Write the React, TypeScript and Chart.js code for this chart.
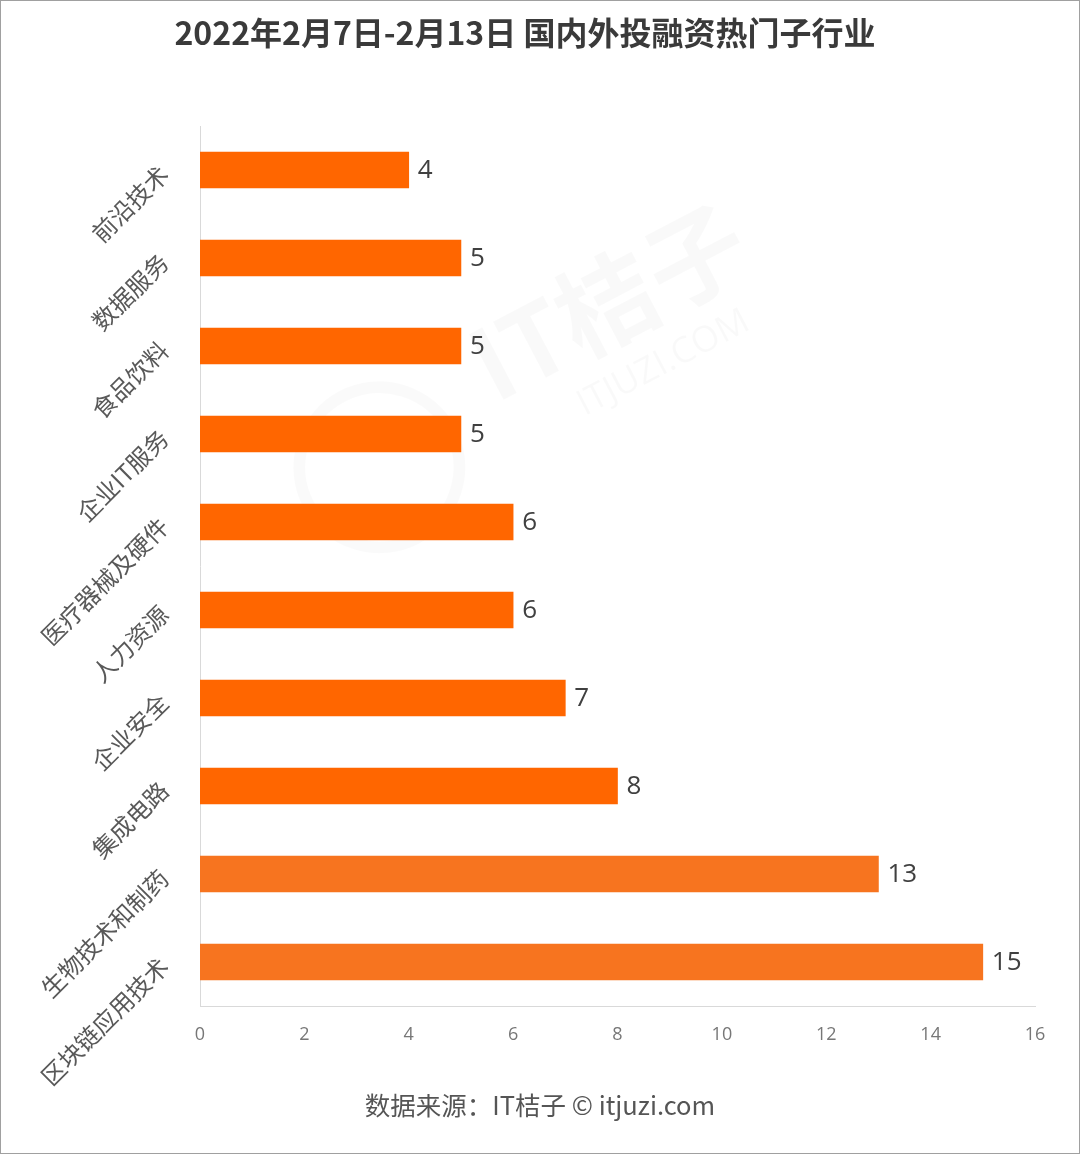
import React, { useEffect, useRef } from 'react';
import { Chart, registerables } from 'chart.js';

Chart.register(...registerables);

const TITLE = '2022年2月7日-2月13日 国内外投融资热门子行业';
const SOURCE = '数据来源：IT桔子 © itjuzi.com';
const categories = [
  '前沿技术',
  '数据服务',
  '食品饮料',
  '企业IT服务',
  '医疗器械及硬件',
  '人力资源',
  '企业安全',
  '集成电路',
  '生物技术和制药',
  '区块链应用技术',
];
const values = [4, 5, 5, 5, 6, 6, 7, 8, 13, 15];
const barColors = [
  '#FF6600', '#FF6600', '#FF6600', '#FF6600', '#FF6600',
  '#FF6600', '#FF6600', '#FF6600', '#F7741F', '#F7741F',
];
const X_MIN = 0;
const X_MAX = 16;
const X_STEP = 2;

const CJK = '"Noto Sans CJK SC", "Noto Sans", sans-serif';
const NUM = '"Open Sans", "Noto Sans", sans-serif';

const valueLabels = {
  id: 'valueLabels',
  afterDatasetsDraw(chart: any) {
    const ctx = chart.ctx;
    const meta = chart.getDatasetMeta(0);
    ctx.save();
    ctx.font = `26px ${NUM}`;
    ctx.fillStyle = '#404040';
    ctx.textAlign = 'left';
    ctx.textBaseline = 'middle';
    meta.data.forEach((bar: any, i: number) => {
      ctx.fillText(String(values[i]), bar.x + 9, bar.y + 1);
    });
    ctx.restore();
  },
};

const headerFooter = {
  id: 'headerFooter',
  afterDraw(chart: any) {
    const ctx = chart.ctx;
    ctx.save();
    ctx.textAlign = 'center';
    ctx.textBaseline = 'middle';
    ctx.fillStyle = '#3a3a3a';
    ctx.font = `bold 32px ${CJK}`;
    ctx.fillText(TITLE, 524, 32);
    ctx.fillStyle = '#555555';
    ctx.font = `25.5px ${CJK}`;
    ctx.fillText(SOURCE, 539, 1104);
    ctx.restore();
  },
};

const watermark = {
  id: 'watermark',
  beforeDatasetsDraw(chart: any) {
    const ctx = chart.ctx;
    ctx.save();
    ctx.fillStyle = 'rgba(0,0,0,0.025)';
    ctx.strokeStyle = 'rgba(0,0,0,0.02)';
    ctx.translate(590, 310);
    ctx.rotate(-Math.PI / 6.5);
    ctx.font = `bold 100px ${CJK}`;
    ctx.textAlign = 'center';
    ctx.textBaseline = 'middle';
    ctx.fillText('IT桔子', 20, 0);
    ctx.font = `36px ${NUM}`;
    ctx.fillText('ITJUZI.COM', 40, 80);
    ctx.lineWidth = 12;
    ctx.beginPath();
    ctx.arc(-260, 40, 80, 0, Math.PI * 2);
    ctx.stroke();
    ctx.restore();
  },
};

export default function App() {
  const canvasRef = useRef<HTMLCanvasElement | null>(null);

  useEffect(() => {
    document.body.style.margin = '0';
    const canvas = canvasRef.current;
    if (!canvas) return;
    const chart = new Chart(canvas, {
      type: 'bar',
      data: {
        labels: categories,
        datasets: [
          {
            data: values,
            backgroundColor: barColors,
            borderWidth: 0,
            barThickness: 36,
          },
        ],
      },
      options: {
        indexAxis: 'y',
        responsive: false,
        animation: false,
        devicePixelRatio: 1,
        layout: { padding: { left: 0, right: 44, top: 125, bottom: 87 } },
        plugins: {
          legend: { display: false },
          tooltip: { enabled: false },
          title: { display: false },
          subtitle: { display: false },
        },
        scales: {
          x: {
            type: 'linear',
            min: X_MIN,
            max: X_MAX,
            ticks: {
              stepSize: X_STEP,
              color: '#777777',
              font: { size: 18, family: NUM },
              padding: 18,
            },
            grid: { display: false, drawTicks: false },
            border: { display: true, color: '#d9d9d9', width: 1 },
            afterFit(scale: any) {
              scale.height = 60;
              scale.paddingLeft = 0;
              scale.paddingRight = 0;
            },
          },
          y: {
            type: 'category',
            ticks: {
              minRotation: 45,
              maxRotation: 45,
              color: '#595959',
              font: { size: 24, family: CJK },
              padding: 36,
            },
            grid: { display: false, drawTicks: false },
            border: { display: true, color: '#d9d9d9', width: 1 },
            afterFit(scale: any) {
              scale.width = 199;
              scale.paddingTop = 0;
              scale.paddingBottom = 0;
            },
          },
        },
      } as any,
      plugins: [watermark, valueLabels, headerFooter],
    });
    return () => chart.destroy();
  }, []);

  return (
    <div
      style={{
        width: 1080,
        height: 1154,
        boxSizing: 'border-box',
        border: '1px solid #a0a0a0',
        background: '#ffffff',
        position: 'relative',
      }}
    >
      <canvas ref={canvasRef} width={1078} height={1152} style={{ display: 'block' }} />
    </div>
  );
}
